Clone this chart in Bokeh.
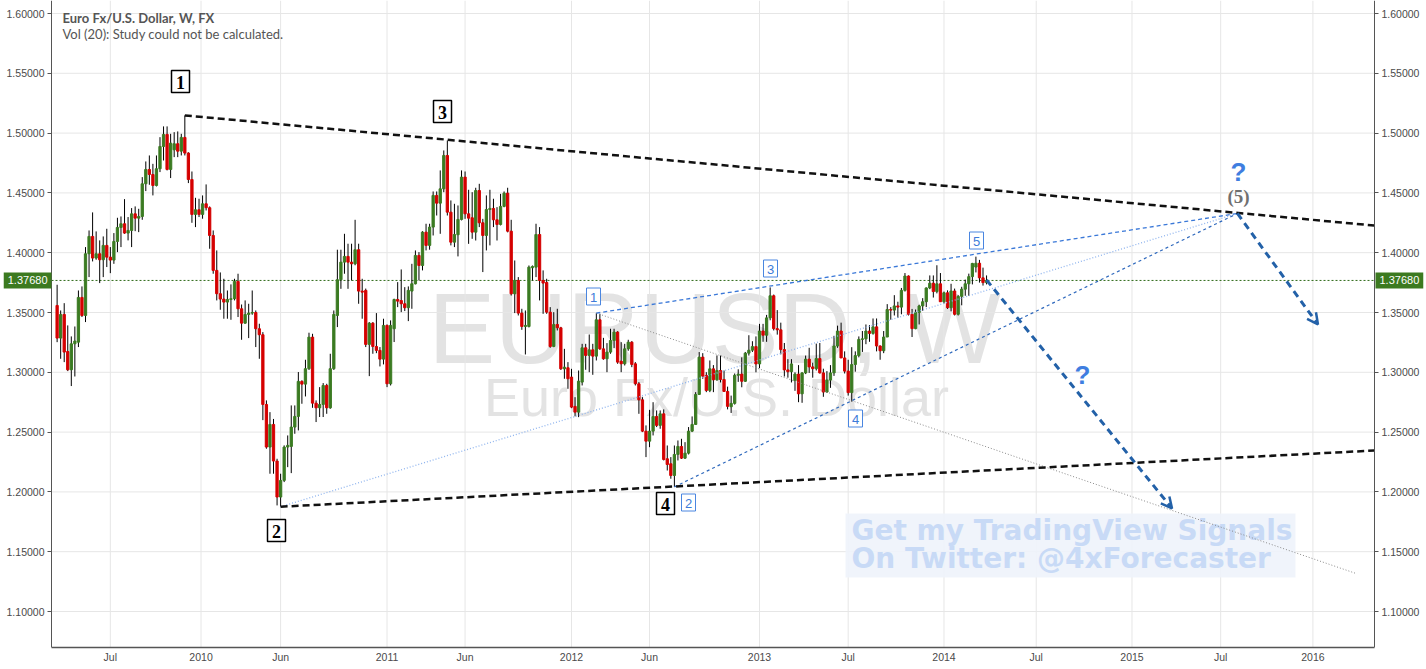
import pandas as pd
from bokeh.plotting import figure
from bokeh.models import (Range1d, LinearAxis, FixedTicker, PrintfTickFormatter,
                          Label, Arrow, OpenHead)
from bokeh.core.properties import value
from bokeh.embed import file_html
from bokeh.resources import INLINE

# ---------------- data (EUR/USD weekly) ----------------
first_week = "2009-03-23"
open_ = [
 1.3559,1.3286,1.3484,1.3174,1.3021,1.3238,1.3252,1.3626,1.3475,1.3991,
 1.4136,1.3955,1.3991,1.3941,1.4061,1.3963,1.3938,1.4094,1.4211,1.4242,
 1.4164,1.4186,1.4325,1.4289,1.4303,1.4576,1.4696,1.4654,1.4562,1.4702,
 1.4888,1.4989,1.4696,1.4860,1.4911,1.4849,1.4964,1.4833,1.4612,1.4320,
 1.4359,1.4320,1.4409,1.4376,1.4144,1.3852,1.3657,1.3612,1.3587,1.3609,
 1.3615,1.3760,1.3531,1.3411,1.3484,1.3495,1.3500,1.3364,1.3314,1.2731,
 1.2375,1.2564,1.2258,1.1957,1.2096,1.2375,1.2380,1.2542,1.2631,1.2924,
 1.2901,1.3030,1.3294,1.2742,1.2703,1.2731,1.2890,1.2703,1.3030,1.3475,
 1.3774,1.3921,1.3969,1.3921,1.3907,1.4025,1.3679,1.3685,1.3233,1.3411,
 1.3216,1.3183,1.3110,1.3392,1.2904,1.3364,1.3609,1.3600,1.3573,1.3540,
 1.3679,1.3740,1.3977,1.3893,1.4172,1.4061,1.4214,1.4479,1.4414,1.4534,
 1.4813,1.4339,1.4088,1.4150,1.4278,1.4632,1.4325,1.4292,1.4172,1.4520,
 1.4250,1.4144,1.4361,1.4370,1.4275,1.4236,1.4387,1.4498,1.4180,1.3656,
 1.3768,1.3495,1.3383,1.3383,1.3874,1.3879,1.4152,1.3768,1.3751,1.3503,
 1.3216,1.3400,1.3372,1.3029,1.3038,1.2960,1.2715,1.2667,1.2918,1.3205,
 1.3141,1.3188,1.3135,1.3439,1.3196,1.3113,1.3169,1.3266,1.3336,1.3093,
 1.3071,1.3196,1.3252,1.3071,1.2904,1.2770,1.2508,1.2424,1.2508,1.2631,
 1.2556,1.2653,1.2277,1.2235,1.2137,1.2313,1.2380,1.2282,1.2324,1.2508,
 1.2564,1.2815,1.3127,1.2974,1.2848,1.3029,1.2937,1.3015,1.2940,1.2840,
 1.2712,1.2740,1.2975,1.2985,1.2925,1.3160,1.3185,1.3215,1.3070,1.3345,
 1.3310,1.3455,1.3640,1.3365,1.3355,1.3190,1.3020,1.3005,1.2930,1.2985,
 1.2820,1.2995,1.3110,1.3045,1.3030,1.3115,1.2995,1.2835,1.2935,1.2995,
 1.3220,1.3345,1.3120,1.3010,1.2830,1.3065,1.3140,1.3275,1.3280,1.3345,
 1.3325,1.3380,1.3220,1.3180,1.3295,1.3525,1.3520,1.3555,1.3545,1.3685,
 1.3805,1.3485,1.3365,1.3500,1.3555,1.3590,1.3705,1.3745,1.3675,1.3740,
 1.3590,1.3665,1.3540,1.3680,1.3485,1.3635,1.3695,1.3740,1.3800,1.3880,
 1.3912,1.3790,1.3750]
high = [
 1.3732,1.3517,1.3578,1.3392,1.3300,1.3383,1.3684,1.3718,1.4047,1.4186,
 1.4337,1.4178,1.4103,1.4136,1.4200,1.4047,1.4164,1.4292,1.4303,1.4448,
 1.4298,1.4373,1.4387,1.4367,1.4632,1.4763,1.4813,1.4743,1.4813,1.4966,
 1.5056,1.5056,1.4994,1.5008,1.5014,1.4994,1.5148,1.4840,1.4679,1.4459,
 1.4451,1.4479,1.4571,1.4387,1.4186,1.4019,1.3835,1.3782,1.3684,1.3735,
 1.3782,1.3824,1.3567,1.3601,1.3573,1.3684,1.3517,1.3406,1.3336,1.2765,
 1.2667,1.2610,1.2277,1.2152,1.2389,1.2472,1.2723,1.2723,1.3002,1.2933,
 1.3105,1.3331,1.3322,1.2765,1.2876,1.2910,1.2904,1.3155,1.3517,1.4025,
 1.4025,1.4158,1.4075,1.4075,1.4275,1.4075,1.3782,1.3700,1.3420,1.3420,
 1.3495,1.3211,1.3448,1.3400,1.3434,1.3615,1.3754,1.3860,1.3712,1.3718,
 1.3907,1.4019,1.4005,1.4180,1.4242,1.4242,1.4512,1.4512,1.4688,1.4855,
 1.4938,1.4437,1.4409,1.4395,1.4688,1.4679,1.4526,1.4506,1.4543,1.4576,
 1.4283,1.4479,1.4526,1.4451,1.4381,1.4492,1.4512,1.4543,1.4275,1.3935,
 1.3796,1.3531,1.3517,1.3893,1.3893,1.4242,1.4214,1.3852,1.3782,1.3545,
 1.3503,1.3531,1.3380,1.3196,1.3085,1.3029,1.2792,1.3015,1.3238,1.3238,
 1.3316,1.3238,1.3495,1.3489,1.3288,1.3244,1.3364,1.3364,1.3344,1.3252,
 1.3238,1.3272,1.3261,1.3085,1.2918,1.2792,1.2556,1.2686,1.2750,1.2681,
 1.2681,1.2690,1.2388,1.2291,1.2388,1.2430,1.2444,1.2416,1.2542,1.2631,
 1.2834,1.3169,1.3160,1.3001,1.3099,1.3060,1.3141,1.3140,1.3015,1.2880,
 1.2805,1.2990,1.3025,1.3125,1.3170,1.3310,1.3260,1.3300,1.3405,1.3405,
 1.3480,1.3710,1.3650,1.3520,1.3415,1.3245,1.3110,1.3110,1.3000,1.3060,
 1.3000,1.3140,1.3205,1.3080,1.3240,1.3245,1.3030,1.3010,1.3060,1.3305,
 1.3390,1.3415,1.3175,1.3105,1.3210,1.3175,1.3300,1.3345,1.3400,1.3395,
 1.3450,1.3450,1.3225,1.3345,1.3570,1.3545,1.3645,1.3590,1.3705,1.3830,
 1.3810,1.3530,1.3525,1.3565,1.3620,1.3710,1.3810,1.3810,1.3895,1.3830,
 1.3675,1.3685,1.3740,1.3700,1.3645,1.3715,1.3775,1.3825,1.3915,1.3967,
 1.3940,1.3875,1.3810]
low = [
 1.3252,1.3113,1.3085,1.3010,1.2885,1.2965,1.3211,1.3462,1.3420,1.3796,
 1.3927,1.3941,1.3746,1.3796,1.3880,1.3829,1.3907,1.4005,1.4047,1.4158,
 1.4103,1.4047,1.4180,1.4172,1.4275,1.4515,1.4568,1.4479,1.4554,1.4674,
 1.4771,1.4688,1.4624,1.4799,1.4799,1.4813,1.4813,1.4582,1.4250,1.4214,
 1.4298,1.4284,1.4353,1.4033,1.3824,1.3601,1.3523,1.3448,1.3448,1.3439,
 1.3601,1.3462,1.3272,1.3406,1.3286,1.3481,1.3211,1.3113,1.2600,1.2361,
 1.2152,1.2152,1.1887,1.1876,1.2082,1.2207,1.2157,1.2486,1.2514,1.2737,
 1.2798,1.3020,1.2703,1.2584,1.2626,1.2626,1.2653,1.2695,1.3020,1.3378,
 1.3698,1.3824,1.3698,1.3768,1.3895,1.3573,1.3448,1.3211,1.2968,1.3155,
 1.3160,1.3049,1.3066,1.2876,1.2890,1.3253,1.3545,1.3503,1.3512,1.3428,
 1.3531,1.3735,1.3768,1.3852,1.4019,1.4025,1.4144,1.4311,1.4158,1.4506,
 1.4311,1.4061,1.4047,1.3969,1.4270,1.4283,1.4074,1.4116,1.4102,1.4214,
 1.3838,1.4019,1.4061,1.4214,1.4102,1.4228,1.4380,1.4170,1.3642,1.3495,
 1.3475,1.3355,1.3149,1.3375,1.3768,1.3796,1.3601,1.3489,1.3489,1.3205,
 1.3210,1.3350,1.3020,1.2946,1.2862,1.2700,1.2631,1.2625,1.2890,1.3021,
 1.3001,1.2979,1.3099,1.3188,1.3105,1.3001,1.3155,1.3202,1.3071,1.3001,
 1.3057,1.3180,1.3043,1.2890,1.2653,1.2500,1.2291,1.2374,1.2472,1.2542,
 1.2528,1.2263,1.2179,1.2110,1.2042,1.2263,1.2275,1.2275,1.2313,1.2500,
 1.2560,1.2810,1.2946,1.2834,1.2834,1.2834,1.2930,1.2915,1.2835,1.2690,
 1.2660,1.2730,1.2920,1.2875,1.2920,1.3140,1.3170,1.3000,1.3035,1.3255,
 1.3255,1.3435,1.3350,1.3315,1.3150,1.2965,1.2955,1.2915,1.2845,1.2750,
 1.2745,1.2985,1.2995,1.2955,1.3015,1.2990,1.2795,1.2830,1.2870,1.2970,
 1.3205,1.3120,1.2990,1.2805,1.2755,1.3005,1.3125,1.3170,1.3235,1.3255,
 1.3315,1.3175,1.3105,1.3160,1.3295,1.3440,1.3475,1.3455,1.3485,1.3675,
 1.3475,1.3295,1.3360,1.3400,1.3515,1.3545,1.3695,1.3625,1.3660,1.3590,
 1.3575,1.3530,1.3510,1.3475,1.3475,1.3560,1.3640,1.3640,1.3735,1.3835,
 1.3750,1.3725,1.3735]
close = [
 1.3286,1.3484,1.3169,1.3021,1.3238,1.3261,1.3626,1.3475,1.3991,1.4136,
 1.3955,1.3991,1.3941,1.4061,1.3963,1.3938,1.4094,1.4211,1.4242,1.4164,
 1.4186,1.4325,1.4289,1.4303,1.4576,1.4696,1.4654,1.4562,1.4702,1.4888,
 1.4989,1.4696,1.4916,1.4911,1.4849,1.4964,1.4833,1.4612,1.4320,1.4359,
 1.4320,1.4409,1.4376,1.4144,1.3852,1.3657,1.3612,1.3587,1.3609,1.3615,
 1.3760,1.3531,1.3411,1.3484,1.3495,1.3500,1.3364,1.3314,1.2731,1.2375,
 1.2564,1.2258,1.1957,1.2096,1.2375,1.2389,1.2542,1.2631,1.2924,1.2901,
 1.3030,1.3294,1.2742,1.2703,1.2731,1.2890,1.2703,1.3030,1.3484,1.3774,
 1.3921,1.3969,1.3921,1.3907,1.4025,1.3679,1.3670,1.3233,1.3411,1.3216,
 1.3183,1.3110,1.3392,1.2904,1.3392,1.3609,1.3595,1.3573,1.3540,1.3685,
 1.3740,1.3977,1.3893,1.4172,1.4061,1.4214,1.4479,1.4414,1.4534,1.4813,
 1.4339,1.4088,1.4152,1.4278,1.4632,1.4325,1.4289,1.4172,1.4520,1.4250,
 1.4144,1.4361,1.4370,1.4275,1.4236,1.4387,1.4498,1.4180,1.3656,1.3768,
 1.3495,1.3383,1.3392,1.3879,1.3885,1.4152,1.3768,1.3746,1.3503,1.3216,
 1.3400,1.3372,1.3029,1.3043,1.2946,1.2709,1.2667,1.2926,1.3205,1.3141,
 1.3188,1.3135,1.3439,1.3196,1.3113,1.3169,1.3266,1.3336,1.3085,1.3071,
 1.3196,1.3252,1.3066,1.2904,1.2770,1.2508,1.2424,1.2508,1.2631,1.2556,
 1.2653,1.2271,1.2229,1.2137,1.2313,1.2380,1.2282,1.2324,1.2508,1.2564,
 1.2815,1.3127,1.2968,1.2848,1.3029,1.2937,1.3015,1.2940,1.2840,1.2715,
 1.2740,1.2975,1.2985,1.2925,1.3160,1.3185,1.3215,1.3070,1.3345,1.3310,
 1.3455,1.3640,1.3365,1.3355,1.3190,1.3020,1.3005,1.3070,1.2985,1.2820,
 1.2995,1.3110,1.3045,1.3030,1.3115,1.2995,1.2835,1.2935,1.2995,1.3220,
 1.3345,1.3120,1.3010,1.2830,1.3065,1.3140,1.3275,1.3280,1.3345,1.3325,
 1.3380,1.3220,1.3180,1.3295,1.3525,1.3520,1.3555,1.3545,1.3685,1.3805,
 1.3485,1.3365,1.3500,1.3555,1.3590,1.3705,1.3745,1.3675,1.3740,1.3590,
 1.3665,1.3540,1.3680,1.3485,1.3635,1.3695,1.3740,1.3800,1.3910,1.3912,
 1.3790,1.3750,1.3768]
last_price = 1.3768

x_tick_dates = ["2009-07-06", "2010-01-01", "2010-06-07", "2011-01-03", "2011-06-06",
                "2012-01-02", "2012-06-04", "2013-01-07", "2013-07-01", "2014-01-06",
                "2014-07-07", "2015-01-12", "2015-07-06", "2016-01-04"]
x_tick_labels = ["Jul", "2010", "Jun", "2011", "Jun", "2012", "Jun", "2013", "Jul",
                 "2014", "Jul", "2015", "Jul", "2016"]
y_ticks = [1.10, 1.15, 1.20, 1.25, 1.30, 1.35, 1.40, 1.45, 1.50, 1.55, 1.60]

# analysis lines (pivot dates and prices)
upper_trend = (["2009-11-30", "2016-05-04"], [1.5148, 1.4227])
lower_trend = (["2010-06-07", "2016-05-04"], [1.1876, 1.2346])
channel_top = (["2012-02-20", "2015-08-08"], [1.3495, 1.4328])
channel_mid = (["2010-06-07", "2015-08-08"], [1.1876, 1.4328])
channel_low = (["2012-07-23", "2015-08-08"], [1.2042, 1.4328])
gray_line = (["2012-02-20", "2016-03-29"], [1.3495, 1.1318])
arrow_one = (["2014-03-31", "2015-04-01"], [1.3772, 1.1862])
arrow_two = (["2015-08-08", "2016-01-14"], [1.4328, 1.3400])

# ---------------- helpers ----------------
def ms(d):
    return pd.Timestamp(d).value // 10**6

T0 = pd.Timestamp("2012-01-02")
PX_PER_DAY = 185.1 / 365.25


def X(px):
    """page pixel -> x data (ms)"""
    return (T0 + pd.Timedelta(days=(px - 571) / PX_PER_DAY)).value / 1e6


def Y(py):
    """page pixel -> price"""
    return 1.60 - (py - 13) / 1196.0


weeks = pd.date_range(first_week, periods=len(close), freq="7D")
t = [w.value // 10**6 for w in weeks]
GREEN = "#3b7b22"
RED = "#d50000"
colors = [GREEN if c >= o else RED for o, c in zip(open_, close)]
tops = [max(o, c) for o, c in zip(open_, close)]
bots = [min(o, c) for o, c in zip(open_, close)]

W, H = 1426, 669
p = figure(width=W, height=H, output_backend="svg", toolbar_location=None,
           x_range=Range1d(X(0), X(W)), y_range=Range1d(Y(647), Y(0)),
           min_border_left=0, min_border_right=0, min_border_top=0,
           min_border_bottom=22, background_fill_color="white")
p.outline_line_color = None
p.grid.visible = False

# grid lines (drawn from the tick lists)
tick_ms = [ms(d) for d in x_tick_dates]
p.segment(x0=[X(51)] * len(y_ticks), x1=[X(1374)] * len(y_ticks), y0=y_ticks, y1=y_ticks,
          line_color="#e6e6e6", line_width=1, level="underlay")
p.segment(x0=tick_ms, x1=tick_ms, y0=[Y(647)] * len(tick_ms), y1=[Y(0)] * len(tick_ms),
          line_color="#e6e6e6", line_width=1, level="underlay")

# watermark
p.text(x=[X(714)], y=[Y(327)], text=["EURUSD, W"], text_font=value("Liberation Sans"),
       text_font_size="100px", text_color="#e3e3e3", text_align="center",
       text_baseline="alphabetic", level="image")
p.text(x=[X(716)], y=[Y(396)], text=["Euro Fx/U.S. Dollar"], text_font=value("Liberation Sans"),
       text_font_size="54px", text_color="#e3e3e3", text_align="center",
       text_baseline="alphabetic", level="image")

# axes
p.xaxis.ticker = FixedTicker(ticks=tick_ms, minor_ticks=[])
p.xaxis.major_label_overrides = {k: v for k, v in zip(tick_ms, x_tick_labels)}
p.xaxis.bounds = (X(51), X(1374))
p.yaxis.ticker = FixedTicker(ticks=y_ticks, minor_ticks=[])
p.yaxis.formatter = PrintfTickFormatter(format="%.5f")
p.yaxis.fixed_location = X(51)
raxis = LinearAxis(ticker=FixedTicker(ticks=y_ticks, minor_ticks=[]),
                   formatter=PrintfTickFormatter(format="%.5f"), fixed_location=X(1374))
p.add_layout(raxis, "right")
for ax in [p.xaxis[0], p.yaxis[0], raxis]:
    ax.axis_line_color = "#555555"
    ax.axis_line_width = 1
    ax.major_tick_line_color = "#555555"
    ax.major_label_text_font = "Liberation Sans"
    ax.major_label_text_font_size = "10.5px"
    ax.major_label_text_color = "#4a4a4a"
    ax.minor_tick_line_color = None
p.xaxis.major_tick_out = 0
p.xaxis.major_tick_in = 0
p.xaxis.major_label_standoff = 3
p.xaxis.axis_line_width = 1.5
for ax in [p.yaxis[0], raxis]:
    ax.major_tick_out = 4
    ax.major_tick_in = 0
    ax.major_label_standoff = 3

# signals box
p.quad(left=[X(845)], right=[X(1295)], top=[Y(513)], bottom=[Y(577)],
       fill_color="#eef3fb", fill_alpha=0.9, line_color=None)
p.text(x=[X(851), X(851)], y=[Y(530), Y(558)],
       text=["Get my TradingView Signals", "On Twitter: @4xForecaster"],
       text_font=value("DejaVu Sans"), text_font_style="bold", text_font_size="28px",
       text_color="#c8daf6", text_align="left", text_baseline="middle")

# header texts
p.text(x=[X(62)], y=[Y(17)], text=["Euro Fx/U.S. Dollar, W, FX"], text_font=value("Lato"),
       text_font_style="bold", text_font_size="13px", text_color="#555555",
       text_align="left", text_baseline="middle")
p.text(x=[X(62)], y=[Y(33)], text=["Vol (20): Study could not be calculated."],
       text_font=value("Lato"), text_font_size="13px", text_color="#555555",
       text_align="left", text_baseline="middle")

# last price line
p.segment(x0=[X(51)], x1=[X(1374)], y0=[last_price], y1=[last_price],
          line_color="#2f6b1a", line_dash="2 2", line_width=1)

# candles
p.segment(x0=t, y0=low, x1=t, y1=high, line_color="black", line_width=1)
p.vbar(x=t, width=4.5 * 86400000, top=tops, bottom=bots, fill_color=colors,
       line_color=colors, line_width=1)

# analysis lines
def seg(line, **kw):
    xs = [ms(d) for d in line[0]]
    p.line(xs, line[1], **kw)

seg(gray_line, line_color="#8a8a8a", line_width=1, line_dash="1 2")
seg(channel_mid, line_color="#8fb4ee", line_width=1.3, line_dash="1 2")
seg(channel_top, line_color="#3a78d8", line_width=1.3, line_dash="4 3")
seg(channel_low, line_color="#2f69bd", line_width=1.2, line_dash="3 3")
seg(upper_trend, line_color="#111111", line_width=2.5, line_dash="7 4")
seg(lower_trend, line_color="#111111", line_width=2.5, line_dash="7 4")

for a in [arrow_one, arrow_two]:
    p.add_layout(Arrow(end=OpenHead(size=11, line_color="#2361a8", line_width=2.5),
                       x_start=ms(a[0][0]), y_start=a[1][0],
                       x_end=ms(a[0][1]), y_end=a[1][1],
                       line_color="#2361a8", line_width=3, line_dash="7 5"))

# wave labels (black boxes)
bx = [180, 276, 442, 665]
by = [81, 530, 111, 503]
p.rect(x=[X(v) for v in bx], y=[Y(v) for v in by], width=18, height=22,
       width_units="screen", height_units="screen", fill_color="white",
       line_color="black", line_width=1.5)
p.text(x=[X(v) for v in bx], y=[Y(v + 1) for v in by], text=["1", "2", "3", "4"],
       text_font=value("Liberation Serif"), text_font_style="bold", text_font_size="18px",
       text_color="black", text_align="center", text_baseline="middle")

# wave labels (blue boxes)
qx = [593, 688, 770, 855, 976]
qy = [296, 502, 268, 418, 240]
p.rect(x=[X(v) for v in qx], y=[Y(v) for v in qy], width=14, height=17,
       width_units="screen", height_units="screen", fill_color="white",
       line_color="#4a86e0", line_width=1)
p.text(x=[X(v) for v in qx], y=[Y(v + 1) for v in qy], text=["1", "2", "3", "4", "5"],
       text_font=value("Liberation Sans"), text_font_size="13px",
       text_color="#3d7bd9", text_align="center", text_baseline="middle")

# question marks and (5)
p.text(x=[X(1238), X(1082)], y=[Y(171), Y(374)], text=["?", "?"],
       text_font=value("Liberation Sans"), text_font_style="bold", text_font_size="26px",
       text_color="#3f7ee0", text_align="center", text_baseline="middle")
p.text(x=[X(1238)], y=[Y(196)], text=["(5)"], text_font=value("Liberation Serif"),
       text_font_style="bold", text_font_size="19px", text_color="#707070",
       text_align="center", text_baseline="middle")

# price tags on both axes
p.add_layout(Label(x=X(51), y=last_price, text="1.37680", text_align="right",
                   text_baseline="middle", text_color="white", text_font_size="11px",
                   text_font="Liberation Sans",
                   background_fill_color="#3c7a20", padding=4))
p.add_layout(Label(x=X(1375), y=last_price, text="1.37680", text_align="left",
                   text_baseline="middle", text_color="white", text_font_size="11px",
                   text_font="Liberation Sans",
                   background_fill_color="#3c7a20", padding=4))

open("out.html", "w").write(file_html(p, INLINE))
